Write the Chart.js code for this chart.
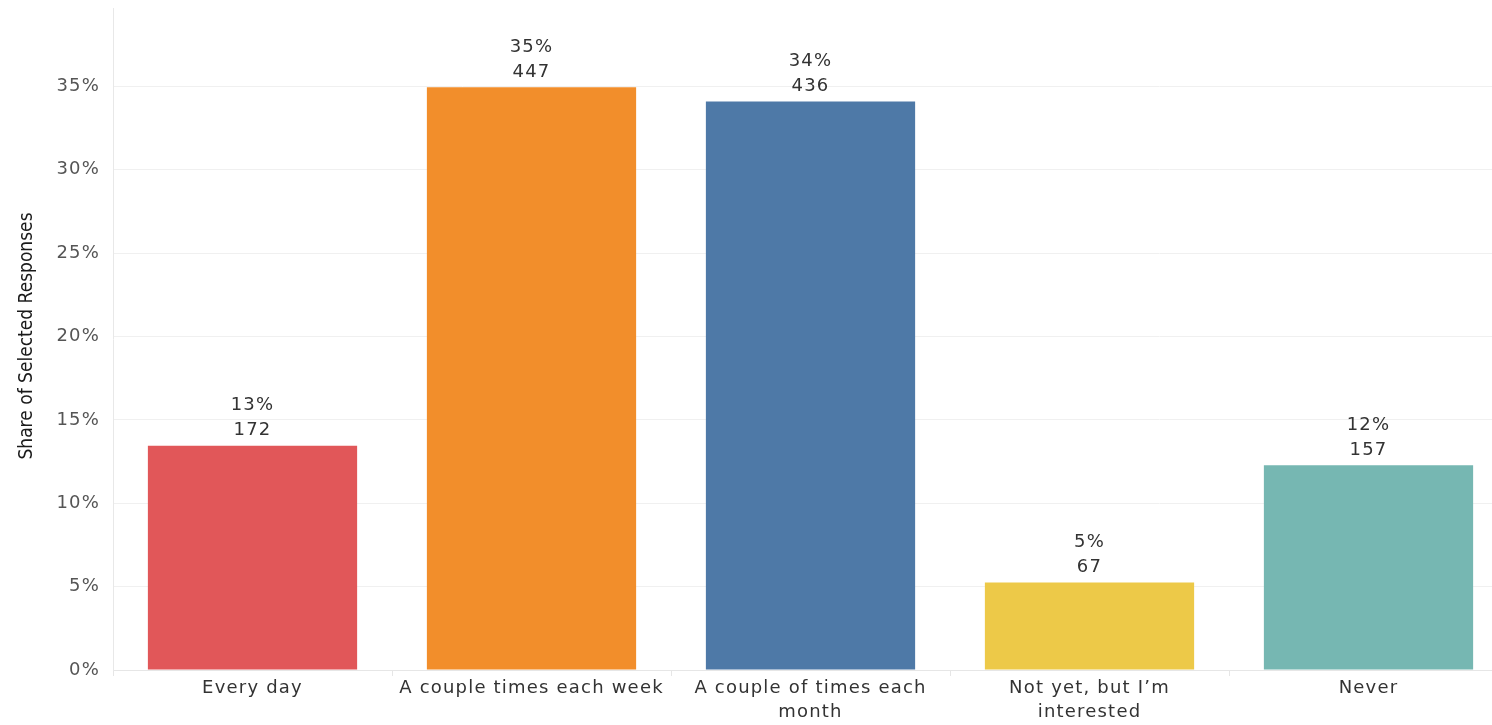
<!DOCTYPE html>
<html>
<head>
<meta charset="utf-8">
<script src="https://cdn.jsdelivr.net/npm/chart.js@4/dist/chart.umd.min.js"></script>
<style>
  html, body { margin: 0; padding: 0; background: #fff; overflow: hidden; }
  #wrap { position: relative; width: 1510px; height: 725px; }
</style>
</head>
<body>
<div id="wrap"><canvas id="grafico"></canvas></div>
<script>
// dados
const categorias = [
    ['Every day'],
    ['A couple times each week'],
    ['A couple of times each', 'month'],
    ['Not yet, but I’m', 'interested'],
    ['Never']
];
const percentuais = [13.45, 34.95, 34.09, 5.24, 12.28];
const respostas = [172, 447, 436, 67, 157];
const rotulosPct = ['13%', '35%', '34%', '5%', '12%'];
const cores = ['#E15759', '#F28E2B', '#4E79A7', '#EDC948', '#76B7B2'];
const ticksY = [0, 5, 10, 15, 20, 25, 30, 35];
const tituloY = 'Share of Selected Responses';

const fonteBase = '"DejaVu Sans", "Open Sans", sans-serif';

// espaçamento entre letras, parecido com a fonte do Tableau
const espacamento = {
    id: 'espacamento',
    beforeDraw(chart) {
        chart.ctx.letterSpacing = '1.2px';
    }
};

// rótulos acima das barras + título do eixo Y
const rotulos = {
    id: 'rotulos',
    afterDatasetsDraw(chart) {
        const ctx = chart.ctx;
        const meta = chart.getDatasetMeta(0);
        ctx.save();
        ctx.font = '18px ' + fonteBase;
        ctx.fillStyle = '#333333';
        ctx.textAlign = 'center';
        ctx.textBaseline = 'middle';
        meta.data.forEach((barra, i) => {
            ctx.fillText(String(respostas[i]), barra.x, barra.y - 15);
            ctx.fillText(rotulosPct[i], barra.x, barra.y - 40);
        });
        ctx.restore();
    },
    afterDraw(chart) {
        const ctx = chart.ctx;
        const area = chart.chartArea;
        ctx.save();
        ctx.letterSpacing = '0px';
        ctx.font = '19px "Liberation Sans Narrow", "DejaVu Sans Condensed", sans-serif';
        ctx.fillStyle = '#1a1a1a';
        ctx.textAlign = 'center';
        ctx.textBaseline = 'middle';
        ctx.translate(27, 336);
        ctx.rotate(-Math.PI / 2);
        ctx.fillText(tituloY, 0, 0);
        ctx.restore();
    }
};

new Chart(document.getElementById('grafico'), {
    type: 'bar',
    data: {
        labels: categorias,
        datasets: [{
            data: percentuais,
            backgroundColor: cores,
            borderWidth: 0,
            categoryPercentage: 1,
            barPercentage: 0.75
        }]
    },
    options: {
        responsive: true,
        maintainAspectRatio: false,
        animation: false,
        layout: { padding: { top: 8, right: 2, left: 0, bottom: 0 } },
        plugins: {
            legend: { display: false },
            tooltip: { enabled: false }
        },
        scales: {
            x: {
                grid: {
                    offset: true,
                    drawOnChartArea: false,
                    drawTicks: true,
                    tickLength: 6,
                    color: '#e6e6e6'
                },
                border: { display: true, color: '#e6e6e6' },
                ticks: {
                    padding: 0,
                    maxRotation: 0,
                    autoSkip: false,
                    color: '#333333',
                    font: { family: fonteBase, size: 18, lineHeight: 1.34 }
                },
                afterFit(scale) {
                    scale.height = 55;
                    scale.paddingLeft = 0;
                    scale.paddingRight = 0;
                }
            },
            y: {
                min: 0,
                max: 39.7,
                grid: {
                    drawTicks: false,
                    color: '#f0f0f0'
                },
                border: { display: true, color: '#e8e8e8' },
                ticks: {
                    padding: 13,
                    color: '#555555',
                    font: { family: fonteBase, size: 18 },
                    callback: function (value) { return value + '%'; }
                },
                afterBuildTicks(scale) {
                    scale.ticks = ticksY.map(v => ({ value: v }));
                },
                afterFit(scale) {
                    scale.width = 113;
                    scale.paddingTop = 0;
                    scale.paddingBottom = 0;
                }
            }
        }
    },
    plugins: [espacamento, rotulos]
});
</script>
</body>
</html>
